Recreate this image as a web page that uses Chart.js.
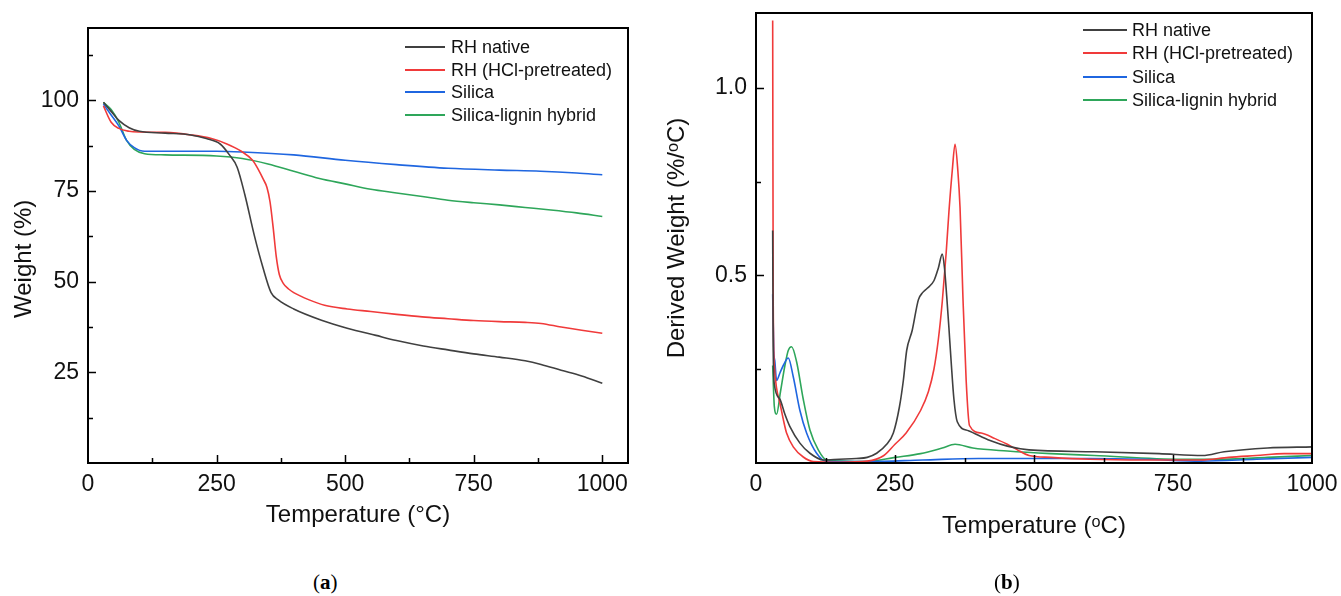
<!DOCTYPE html>
<html lang="en">
<head>
<meta charset="UTF-8" />
<title>TGA / DTG curves</title>
<script src="https://cdn.jsdelivr.net/npm/chart.js"></script>
<style>
    body {
        margin: 0;
        background: #fff;
        width: 1341px;
        height: 596px;
        overflow: hidden;
        position: relative;
        font-family: 'Liberation Sans', Arial, sans-serif;
    }
    .box { position: absolute; }
    #boxA { left: 0; top: 0; width: 660px; height: 540px; }
    #boxB { left: 660px; top: 0; width: 681px; height: 575px; }
    .legend { position: absolute; font-size: 18px; color: #111; }
    .legend .row { position: absolute; left: 0; white-space: nowrap; height: 22px; line-height: 22px; }
    .legend .swatch { position: absolute; top: 10px; height: 2px; }
    .legend .txt { position: absolute; top: 0; }
    .panel {
        position: absolute;
        top: 570px;
        font-family: 'Liberation Serif', 'DejaVu Serif', serif;
        font-size: 21px;
        color: #000;
    }
    .panel b { font-weight: bold; }
</style>
</head>
<body>
    <div class="box" id="boxA"><canvas id="tga"></canvas></div>
    <div class="box" id="boxB"><canvas id="dtg"></canvas></div>

    <div class="legend" id="legA" style="left:405px; top:36px;"></div>
    <div class="legend" id="legB" style="left:1083px; top:19px;"></div>

    <div class="panel" style="left:313px;">(<b>a</b>)</div>
    <div class="panel" style="left:994px;">(<b>b</b>)</div>

<script>
// ---- series names / colours ----
const seriesNames = ['RH native', 'RH (HCl-pretreated)', 'Silica', 'Silica-lignin hybrid'];
const seriesColors = ['#404040', '#f03a3a', '#1f66e0', '#2ea65a'];

// ---- (a) TGA: weight (%) vs temperature ----
const nativeT  = [30, 45, 60, 80, 100, 150, 200, 230, 257, 275, 290, 305, 323, 340, 356, 370, 400, 454, 504, 560, 600, 652, 700, 750, 800, 850, 881, 920, 960, 1000];
const nativeW  = [99.5, 97, 94.5, 92.5, 91.5, 91, 90.5, 89.5, 88, 85, 81.6, 74, 63, 54, 47, 45, 42.5, 39.4, 37.2, 35.2, 33.8, 32.3, 31.2, 30.1, 29.2, 28.2, 27.2, 25.6, 24, 22];
const hclT     = [30, 45, 60, 80, 100, 150, 200, 240, 270, 298, 320, 331, 340, 348, 354, 360, 366, 372, 380, 390, 400, 430, 460, 504, 550, 600, 650, 700, 750, 800, 850, 881, 920, 960, 1000];
const hclW     = [98.5, 94, 92.3, 91.5, 91.3, 91.2, 90.5, 89.5, 88, 86, 83.5, 81, 78.5, 76, 72, 65, 57, 52, 49.5, 48, 47, 45, 43.5, 42.5, 41.8, 41, 40.3, 39.8, 39.3, 39, 38.8, 38.5, 37.5, 36.6, 35.8];
const silicaT  = [30, 45, 60, 75, 90, 110, 150, 250, 300, 400, 500, 600, 700, 800, 880, 950, 1000];
const silicaW  = [99, 96, 93, 89, 87, 86, 86, 86, 85.8, 85, 83.5, 82.3, 81.3, 80.8, 80.5, 80, 79.5];
const hybridT  = [30, 45, 60, 75, 90, 110, 150, 250, 300, 350, 400, 450, 500, 550, 600, 650, 700, 750, 800, 850, 900, 950, 1000];
const hybridW  = [99.5, 97.5, 94, 89, 86.5, 85.3, 85, 84.7, 84, 82.5, 80.5, 78.5, 77, 75.5, 74.5, 73.5, 72.5, 71.8, 71.2, 70.5, 69.8, 69, 68];

// ---- (b) DTG: derived weight (%/oC) vs temperature ----
const nativeDT = [30, 31, 33, 43, 52, 61, 79, 97, 121, 150, 180, 200, 217, 235, 247, 258, 265, 271, 281, 292, 300, 308, 320, 328, 335, 339, 343, 347, 351, 356, 362, 382, 421, 452, 491, 608, 725, 803, 842, 920, 1000];
const nativeD  = [0.62, 0.3, 0.21, 0.17, 0.13, 0.097, 0.053, 0.026, 0.008, 0.01, 0.012, 0.015, 0.026, 0.05, 0.08, 0.15, 0.22, 0.3, 0.354, 0.435, 0.455, 0.466, 0.486, 0.52, 0.557, 0.52, 0.445, 0.36, 0.27, 0.17, 0.11, 0.086, 0.06, 0.045, 0.035, 0.03, 0.025, 0.02, 0.03, 0.04, 0.043];
const hclDT    = [30, 31, 33, 37, 43, 50, 55, 67, 85, 103, 150, 200, 230, 250, 270, 296, 310, 320, 328, 335, 342, 347, 353, 358, 363, 367, 372, 378, 384, 405, 430, 452, 470, 491, 530, 600, 700, 800, 850, 900, 950, 1000];
const hclD     = [1.18, 0.42, 0.26, 0.2, 0.16, 0.11, 0.08, 0.043, 0.016, 0.004, 0.002, 0.005, 0.02, 0.05, 0.08, 0.14, 0.19, 0.25, 0.33, 0.43, 0.56, 0.67, 0.78, 0.85, 0.78, 0.68, 0.45, 0.22, 0.1, 0.08, 0.065, 0.05, 0.035, 0.02, 0.015, 0.01, 0.008, 0.008, 0.015, 0.02, 0.025, 0.025];
const silicaDT = [30, 32, 34, 37, 43, 49, 58, 67, 79, 91, 109, 127, 200, 300, 400, 500, 600, 700, 800, 900, 1000];
const silicaD  = [0.45, 0.3, 0.27, 0.22, 0.24, 0.26, 0.28, 0.23, 0.14, 0.08, 0.026, 0.004, 0.004, 0.008, 0.012, 0.012, 0.012, 0.01, 0.005, 0.01, 0.015];
const hybridDT = [30, 33, 37, 44, 52, 58, 64, 73, 85, 97, 112, 127, 200, 250, 296, 335, 358, 390, 452, 530, 608, 764, 842, 920, 1000];
const hybridD  = [0.26, 0.15, 0.13, 0.19, 0.26, 0.3, 0.31, 0.27, 0.17, 0.088, 0.035, 0.008, 0.004, 0.015, 0.025, 0.04, 0.05, 0.04, 0.032, 0.025, 0.02, 0.01, 0.01, 0.015, 0.02];

// ---- ticks ----
const tempTicks = [0, 250, 500, 750, 1000];
const tempMinor = [125, 375, 625, 875];
const weightTicks = [25, 50, 75, 100];
const weightMinor = [12.5, 37.5, 62.5, 87.5, 112.5];
const derivTicks = [0.5, 1.0];
const derivMinor = [0.25, 0.75];

const fontFamily = "'Liberation Sans', Arial, sans-serif";

function pairs(xs, ys) {
    return xs.map((x, i) => ({ x: x, y: ys[i] }));
}

function makeDatasets(list) {
    return list.map((pts, i) => ({
        label: seriesNames[i],
        data: pts,
        borderColor: seriesColors[i],
        borderWidth: 1.6,
        pointRadius: 0,
        cubicInterpolationMode: 'monotone',
        fill: false
    }));
}

// frame round the plot plus inward ticks
const frameTicks = {
    id: 'frameTicks',
    afterDraw(chart, args, opts) {
        const { ctx, chartArea: a, scales: { x, y } } = chart;
        ctx.save();
        ctx.strokeStyle = '#000';
        ctx.lineWidth = 2;
        ctx.strokeRect(a.left, a.top, a.right - a.left, a.bottom - a.top);
        ctx.lineWidth = 1.5;
        ctx.beginPath();
        const tickX = (vals, len) => vals.forEach(v => {
            const px = Math.round(x.getPixelForValue(v)) + 0.5;
            ctx.moveTo(px, a.bottom);
            ctx.lineTo(px, a.bottom - len);
        });
        const tickY = (vals, len) => vals.forEach(v => {
            const py = Math.round(y.getPixelForValue(v)) + 0.5;
            ctx.moveTo(a.left, py);
            ctx.lineTo(a.left + len, py);
        });
        tickX(opts.xMajor, 8);
        tickX(opts.xMinor, 5);
        tickY(opts.yMajor, 8);
        tickY(opts.yMinor, 5);
        ctx.stroke();
        ctx.restore();
    }
};

function buildChart(id, cfg) {
    return new Chart(document.getElementById(id), {
        type: 'line',
        data: { datasets: cfg.datasets },
        options: {
            responsive: true,
            maintainAspectRatio: false,
            animation: false,
            layout: { padding: cfg.padding },
            plugins: {
                legend: { display: false },
                tooltip: { enabled: false },
                frameTicks: cfg.ticks
            },
            scales: {
                x: {
                    type: 'linear',
                    min: cfg.xMin, max: cfg.xMax,
                    afterBuildTicks: s => { s.ticks = tempTicks.map(v => ({ value: v })); },
                    afterFit: s => { s.height = cfg.xHeight; s.paddingLeft = 0; s.paddingRight = 0; },
                    grid: { display: false, drawTicks: false },
                    border: { display: false },
                    ticks: {
                        padding: 8,
                        maxRotation: 0,
                        autoSkip: false,
                        color: '#111',
                        font: { family: fontFamily, size: 23 },
                        callback: v => String(v)
                    },
                    title: {
                        display: true,
                        text: cfg.xTitle,
                        color: '#111',
                        font: { family: fontFamily, size: 24 },
                        padding: { top: 0, bottom: cfg.xTitlePad }
                    }
                },
                y: {
                    min: cfg.yMin, max: cfg.yMax,
                    afterBuildTicks: s => { s.ticks = cfg.yTicks.map(v => ({ value: v })); },
                    afterFit: s => { s.width = cfg.yWidth; s.paddingTop = 0; s.paddingBottom = 0; },
                    grid: { display: false, drawTicks: false },
                    border: { display: false },
                    ticks: {
                        padding: 9,
                        color: '#111',
                        font: { family: fontFamily, size: 23 },
                        callback: cfg.yFormat
                    },
                    title: {
                        display: true,
                        text: cfg.yTitle,
                        color: '#111',
                        font: { family: fontFamily, size: 24 },
                        padding: { top: cfg.yTitlePad, bottom: 0 }
                    }
                }
            }
        },
        plugins: [frameTicks]
    });
}

buildChart('tga', {
    datasets: makeDatasets([pairs(nativeT, nativeW), pairs(hclT, hclW), pairs(silicaT, silicaW), pairs(hybridT, hybridW)]),
    padding: { top: 28, right: 32, left: 0, bottom: 0 },
    xMin: 0, xMax: 1050, yMin: 0, yMax: 120,
    xHeight: 77, yWidth: 88,
    xTitle: 'Temperature (°C)', xTitlePad: 10,
    // trailing spaces nudge the rotated title a little lower, as in the original
    yTitle: 'Weight (%)    ', yTitlePad: 10,
    yTicks: weightTicks,
    yFormat: v => String(v),
    ticks: { xMajor: [250, 500, 750, 1000], xMinor: tempMinor, yMajor: weightTicks, yMinor: weightMinor }
});

buildChart('dtg', {
    datasets: makeDatasets([pairs(nativeDT, nativeD), pairs(hclDT, hclD), pairs(silicaDT, silicaD), pairs(hybridDT, hybridD)]),
    padding: { top: 13, right: 29, left: 0, bottom: 0 },
    xMin: 0, xMax: 1000, yMin: 0, yMax: 1.2,
    xHeight: 112, yWidth: 96,
    xTitle: 'Temperature (ᵒC)', xTitlePad: 34,
    yTitle: 'Derived Weight (%/ᵒC)', yTitlePad: 3,
    yTicks: derivTicks,
    yFormat: v => v.toFixed(1),
    ticks: { xMajor: [250, 500, 750], xMinor: tempMinor, yMajor: derivTicks, yMinor: derivMinor }
});

// HTML legends
function fillLegend(id, lineW, gap, textLeft) {
    const el = document.getElementById(id);
    seriesNames.forEach((name, i) => {
        const row = document.createElement('div');
        row.className = 'row';
        row.style.top = (i * gap) + 'px';
        row.innerHTML = '<span class="swatch" style="left:0;width:' + lineW + 'px;background:' + seriesColors[i] + '"></span>' +
            '<span class="txt" style="left:' + textLeft + 'px">' + name + '</span>';
        el.appendChild(row);
    });
}
fillLegend('legA', 40, 22.7, 46);
fillLegend('legB', 44, 23.4, 49);
</script>
</body>
</html>
